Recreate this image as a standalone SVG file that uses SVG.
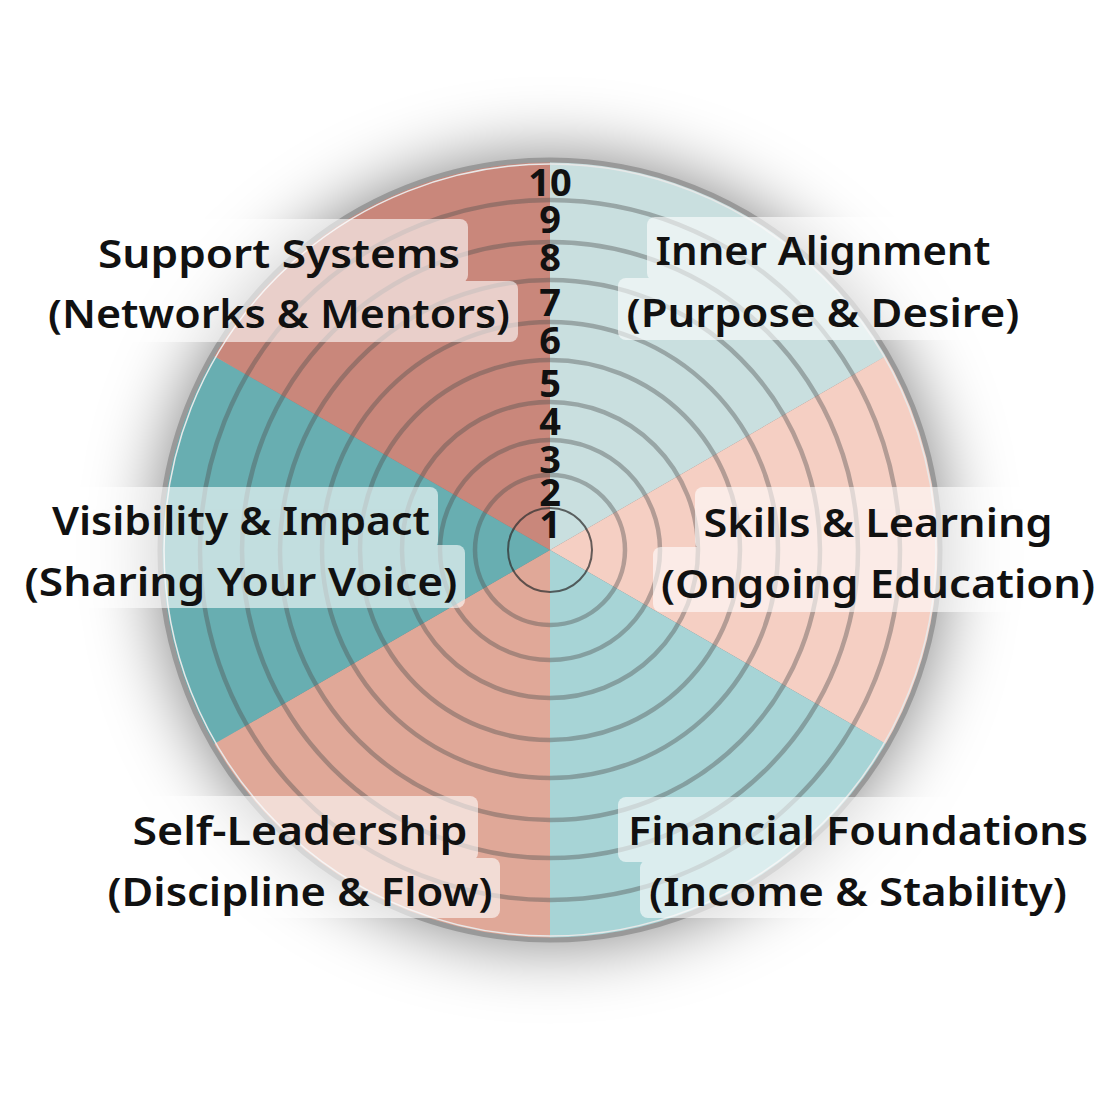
<svg xmlns="http://www.w3.org/2000/svg" width="1100" height="1100" viewBox="0 0 1100 1100">
<defs>
<filter id="shadow" x="-50%" y="-50%" width="200%" height="200%">
<feGaussianBlur stdDeviation="36"/>
</filter>
<style>
.ring{fill:none;stroke:#505050;stroke-opacity:0.4;stroke-width:4.5}
.num{font-family:"Noto Sans","Open Sans",sans-serif;font-weight:700;font-size:38px;fill:#111;text-anchor:middle}
.lbl{font-family:"Noto Sans","Open Sans",sans-serif;font-weight:600;font-size:40px;fill:#111;text-anchor:middle}
.box{fill:#fff}
</style>
</defs>
<rect width="1100" height="1100" fill="#fff"/>
<circle cx="550" cy="550" r="392" fill="#000" fill-opacity="0.5" filter="url(#shadow)"/>
<g id="wheel">
<path d="M550,550 L550,160 A390,390 0 0 1 887.75,355 Z" fill="#c9dfdf"/>
<path d="M550,550 L887.75,355 A390,390 0 0 1 887.75,745 Z" fill="#f5cfc3"/>
<path d="M550,550 L887.75,745 A390,390 0 0 1 550,940 Z" fill="#a7d4d6"/>
<path d="M550,550 L550,940 A390,390 0 0 1 212.25,745 Z" fill="#e0a898"/>
<path d="M550,550 L212.25,745 A390,390 0 0 1 212.25,355 Z" fill="#68aeb1"/>
<path d="M550,550 L212.25,355 A390,390 0 0 1 550,160 Z" fill="#c9877b"/>
<circle class="ring" cx="550" cy="550" r="75"/>
<circle class="ring" cx="550" cy="550" r="110"/>
<circle class="ring" cx="550" cy="550" r="148"/>
<circle class="ring" cx="550" cy="550" r="190"/>
<circle class="ring" cx="550" cy="550" r="228"/>
<circle class="ring" cx="550" cy="550" r="270"/>
<circle class="ring" cx="550" cy="550" r="308"/>
<circle class="ring" cx="550" cy="550" r="350"/>
<circle cx="550" cy="550" r="42" fill="none" stroke="#333" stroke-opacity="0.75" stroke-width="2"/>
<circle cx="550" cy="550" r="386" fill="none" stroke="#e8e8e8" stroke-width="1.5"/>
<circle cx="550" cy="550" r="390" fill="none" stroke="#999" stroke-width="5"/>
</g>
<g id="scale">
<text class="num" x="550" y="196">10</text>
<text class="num" x="550" y="233">9</text>
<text class="num" x="550" y="271">8</text>
<text class="num" x="550" y="316">7</text>
<text class="num" x="550" y="354">6</text>
<text class="num" x="550" y="397">5</text>
<text class="num" x="550" y="435">4</text>
<text class="num" x="550" y="473">3</text>
<text class="num" x="550" y="506">2</text>
<text class="num" x="550" y="538">1</text>
</g>
<g id="support-systems">
<g opacity="0.6"><rect class="box" x="88" y="219" width="380" height="64" rx="8"/><rect class="box" x="38" y="281" width="480" height="61" rx="8"/></g>
<text class="lbl" x="279" y="268" textLength="362" lengthAdjust="spacingAndGlyphs">Support Systems</text>
<text class="lbl" x="279" y="328" textLength="462" lengthAdjust="spacingAndGlyphs">(Networks &amp; Mentors)</text>
</g>
<g id="inner-alignment">
<g opacity="0.6"><rect class="box" x="647" y="217" width="351" height="64" rx="8"/><rect class="box" x="618" y="278" width="410" height="62" rx="8"/></g>
<text class="lbl" x="823" y="265" textLength="335" lengthAdjust="spacingAndGlyphs">Inner Alignment</text>
<text class="lbl" x="823" y="327" textLength="393" lengthAdjust="spacingAndGlyphs">(Purpose &amp; Desire)</text>
</g>
<g id="visibility-impact">
<g opacity="0.6"><rect class="box" x="44" y="487" width="394" height="62" rx="8"/><rect class="box" x="17" y="545" width="448" height="63" rx="8"/></g>
<text class="lbl" x="241" y="535" textLength="378" lengthAdjust="spacingAndGlyphs">Visibility &amp; Impact</text>
<text class="lbl" x="241" y="596" textLength="433" lengthAdjust="spacingAndGlyphs">(Sharing Your Voice)</text>
</g>
<g id="skills-learning">
<g opacity="0.6"><rect class="box" x="695" y="487" width="365" height="63" rx="8"/><rect class="box" x="653" y="547" width="452" height="65" rx="8"/></g>
<text class="lbl" x="878" y="537" textLength="349" lengthAdjust="spacingAndGlyphs">Skills &amp; Learning</text>
<text class="lbl" x="878" y="598" textLength="434" lengthAdjust="spacingAndGlyphs">(Ongoing Education)</text>
</g>
<g id="self-leadership">
<g opacity="0.6"><rect class="box" x="125" y="796" width="353" height="65" rx="8"/><rect class="box" x="100" y="858" width="400" height="60" rx="8"/></g>
<text class="lbl" x="300" y="845" textLength="335" lengthAdjust="spacingAndGlyphs">Self-Leadership</text>
<text class="lbl" x="300" y="906" textLength="385" lengthAdjust="spacingAndGlyphs">(Discipline &amp; Flow)</text>
</g>
<g id="financial-foundations">
<g opacity="0.6"><rect class="box" x="618" y="797" width="480" height="65" rx="8"/><rect class="box" x="640" y="860" width="436" height="58" rx="8"/></g>
<text class="lbl" x="858" y="845" textLength="460" lengthAdjust="spacingAndGlyphs">Financial Foundations</text>
<text class="lbl" x="858" y="906" textLength="418" lengthAdjust="spacingAndGlyphs">(Income &amp; Stability)</text>
</g>
<g id="connectors"/>
</svg>
